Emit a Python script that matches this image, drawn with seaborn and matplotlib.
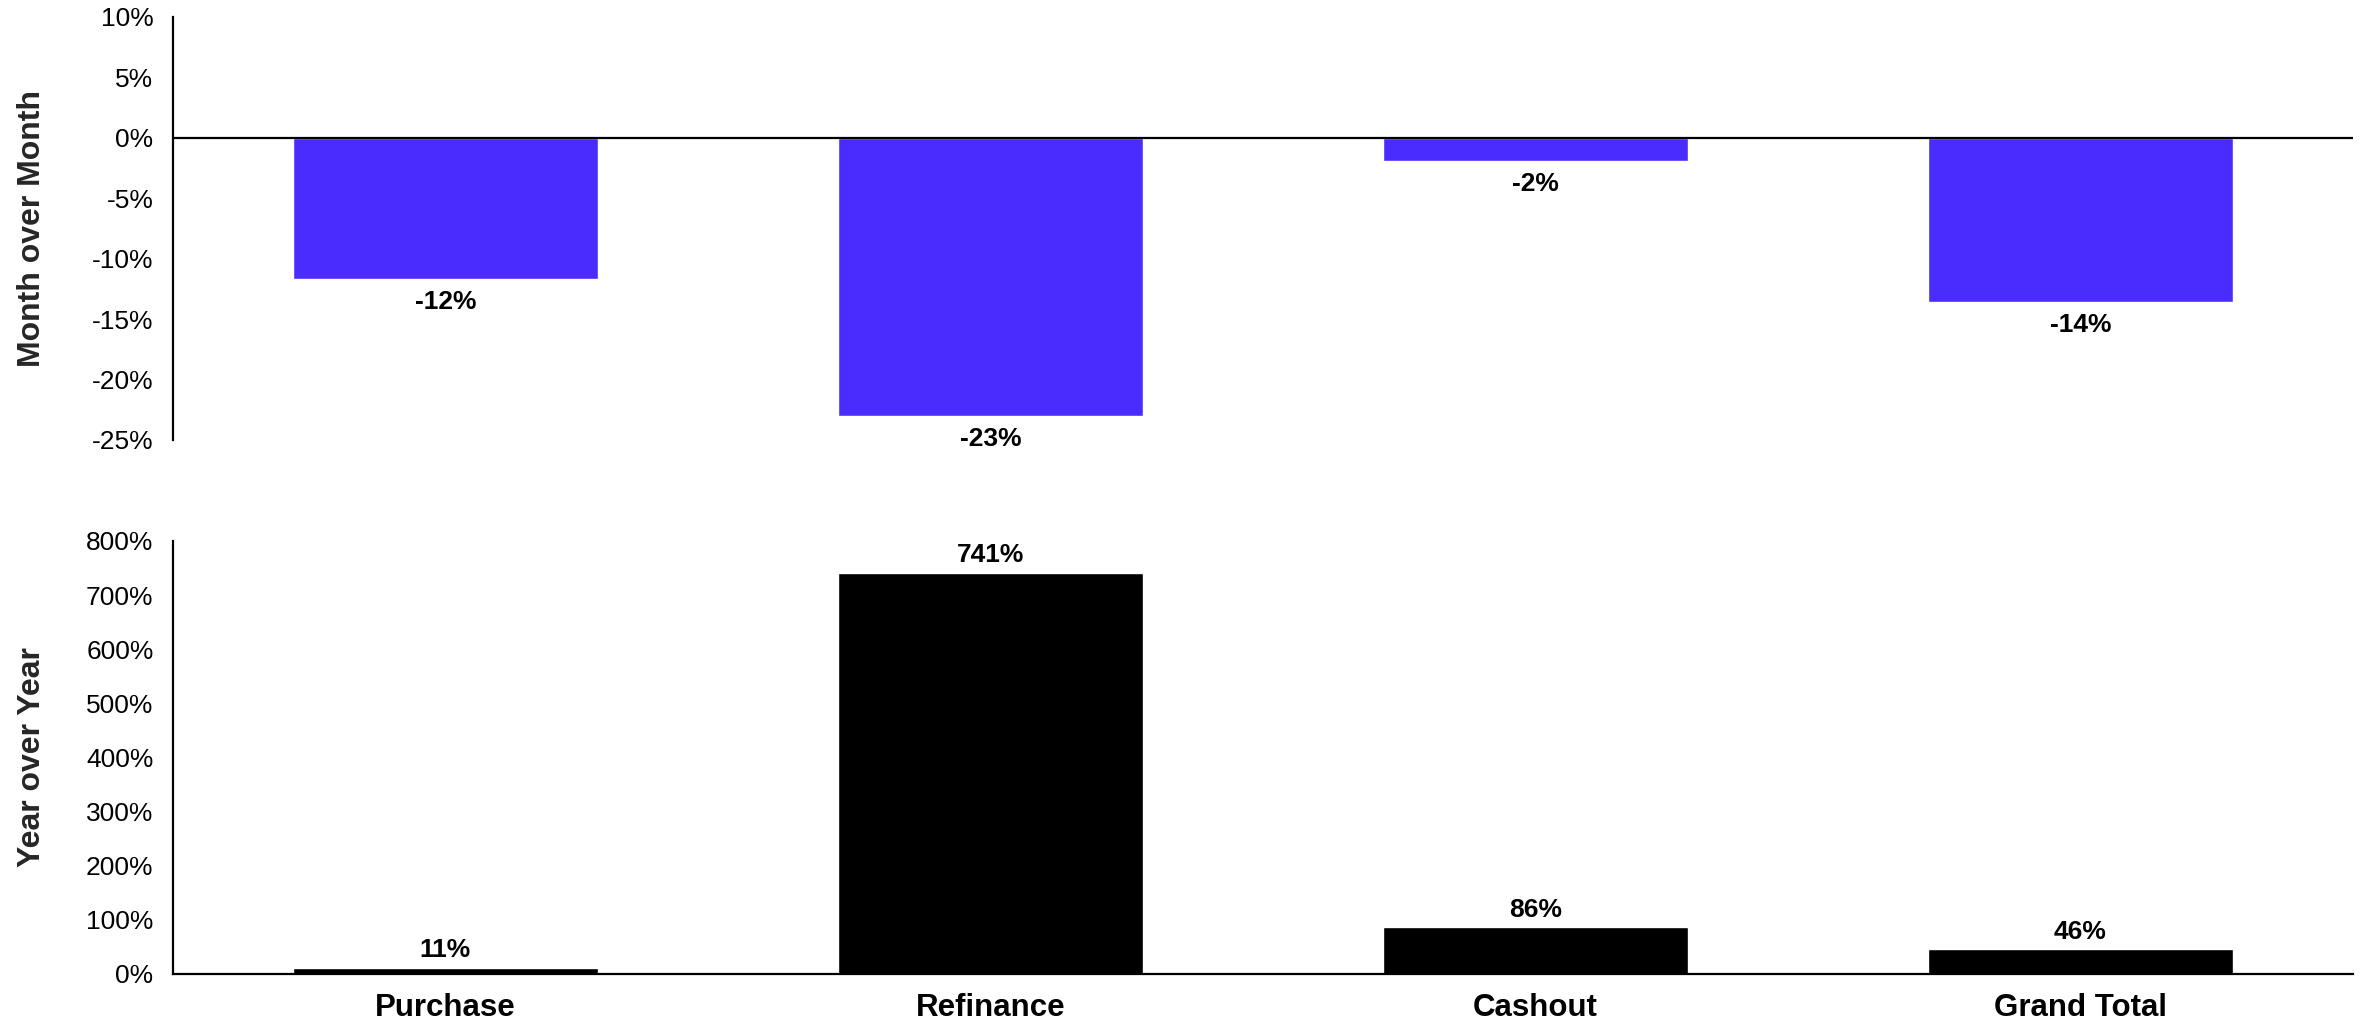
import matplotlib
matplotlib.use("Agg")
import matplotlib.pyplot as plt
import seaborn as sns
import pandas as pd
from matplotlib.ticker import FuncFormatter

# Loan categories and percentage changes
categories = ["Purchase", "Refinance", "Cashout", "Grand Total"]
mom_change = [-11.7, -23.0, -1.9, -13.6]   # month over month, %
yoy_change = [11, 741, 86, 46]             # year over year, %

mom_color = "#4B2CFF"
yoy_color = "#000000"

sns.set_theme(style="white")
plt.rcParams["font.family"] = ["Liberation Sans", "DejaVu Sans"]

fig = plt.figure(figsize=(23.63, 10.23), dpi=100)
ax_top = fig.add_axes([0.0732, 0.5699, 0.9226, 0.4135])
ax_bot = fig.add_axes([0.0732, 0.0479, 0.9226, 0.4233])

df_mom = pd.DataFrame({"category": categories, "value": mom_change})
df_yoy = pd.DataFrame({"category": categories, "value": yoy_change})

sns.barplot(data=df_mom, x="category", y="value", color=mom_color,
            saturation=1, width=0.56, ax=ax_top)
sns.barplot(data=df_yoy, x="category", y="value", color=yoy_color,
            saturation=1, width=0.56, ax=ax_bot)

pct = FuncFormatter(lambda v, _: f"{v:.0f}%")

# Month over month panel
ax_top.set_xlim(-0.5, 3.5)
ax_top.set_ylim(-25, 10)
ax_top.set_yticks(range(-25, 11, 5))
ax_top.yaxis.set_major_formatter(pct)
ax_top.axhline(0, color="black", lw=1.6, zorder=3)
ax_top.set_xticks([])
ax_top.set_xlabel("")
ax_top.set_ylabel("Month over Month", fontsize=23, fontweight="bold")
for side in ["top", "right", "bottom"]:
    ax_top.spines[side].set_visible(False)
ax_top.spines["left"].set_color("black")
ax_top.spines["left"].set_linewidth(1.6)
for i, v in enumerate(mom_change):
    ax_top.annotate(f"{v:.0f}%", (i, v), xytext=(0, -8), textcoords="offset points",
                    ha="center", va="top", fontsize=19, fontweight="bold", color="black")

# Year over year panel
ax_bot.set_xlim(-0.5, 3.5)
ax_bot.set_ylim(0, 800)
ax_bot.set_yticks(range(0, 801, 100))
ax_bot.yaxis.set_major_formatter(pct)
ax_bot.set_xlabel("")
ax_bot.set_ylabel("Year over Year", fontsize=23, fontweight="bold")
for side in ["top", "right"]:
    ax_bot.spines[side].set_visible(False)
for side in ["left", "bottom"]:
    ax_bot.spines[side].set_color("black")
    ax_bot.spines[side].set_linewidth(1.6)
for i, v in enumerate(yoy_change):
    ax_bot.annotate(f"{v:.0f}%", (i, v), xytext=(0, 4), textcoords="offset points",
                    ha="center", va="bottom", fontsize=19, fontweight="bold", color="black")

for ax in (ax_top, ax_bot):
    ax.tick_params(axis="y", length=0, pad=14, labelsize=19, labelcolor="black")
    ax.grid(False)
    ax.yaxis.set_label_coords(-0.058, 0.5)
ax_bot.tick_params(axis="x", length=0, pad=14, labelsize=22.5, labelcolor="black")
for lbl in ax_bot.get_xticklabels():
    lbl.set_fontweight("bold")

fig.savefig("out.png", dpi=100, facecolor="white")
